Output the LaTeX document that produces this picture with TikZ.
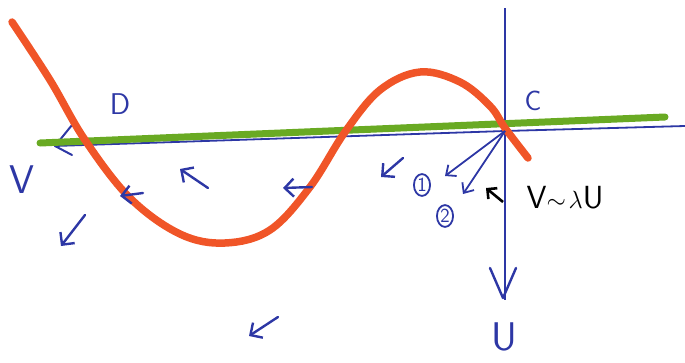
\documentclass[tikz,border=0pt]{standalone}
\usepackage{amsmath,amssymb}
\usepackage{xcolor}
\usepackage{tikz}
\usetikzlibrary{shapes.geometric, arrows.meta, positioning, calc}

\definecolor{penblue}{RGB}{45,55,165}
\definecolor{penred}{RGB}{240,85,40}
\definecolor{pengreen}{RGB}{105,170,35}

\begin{document}
\begin{tikzpicture}[
    x=1pt, y=-1pt,
    axisline/.style={draw=penblue, line width=1.8pt},
    flowarrow/.style={-{Straight Barb[length=9pt, width=18pt]}, draw=penblue, line width=2.4pt, line cap=round},
    eigarrow/.style={-{Straight Barb[length=8pt, width=14pt]}, draw=penblue, line width=1.8pt},
    penlabel/.style={text=penblue, font=\sffamily\fontsize{40}{40}\selectfont},
    circlabel/.style={ellipse, draw=penblue, line width=1.8pt, inner sep=1pt, text=penblue, font=\sffamily\fontsize{20}{20}\selectfont},
]
\useasboundingbox (0,0) rectangle (685,362);

% axes
\coordinate (top) at (505,8);
\coordinate (origin) at (505,131);
\coordinate (bottom) at (505,300);
\coordinate (rightend) at (685,126);
\coordinate (leftend) at (55,146);
\draw[axisline] (top) -- (bottom);
\draw[axisline] (rightend) -- (origin) -- (leftend);
\draw[penblue, line width=2.4pt, line cap=round, line join=round] (490,268) -- (503,298) -- (516,268);
\draw[penblue, line width=2pt, line cap=round, line join=round] (72,125) -- (leftend) -- (72,155);

% green line and red curve
\draw[pengreen, line width=7pt, line cap=round] (40,143) -- (665,117);
\draw[penred, line width=7.5pt, line cap=round] plot[smooth, tension=0.6] coordinates {
    (12,22) (50,80) (85,140) (130,198) (180,234) (225,243) (270,230) (310,187)
    (345,132) (380,90) (420,72) (460,82) (490,106) (505,128) (528,158)};

% labels
\node[penlabel] (vlab) at (22,180) {V};
\node[penlabel] (ulab) at (504,337) {U};
\node[penlabel, font=\sffamily\fontsize{28}{28}\selectfont] (clab) at (533,101) {C};
\node[penlabel, font=\sffamily\fontsize{30}{30}\selectfont] (dlab) at (120,104) {D};
\node[font=\sffamily\fontsize{32}{32}\selectfont] (rel) at (565,198) {V$\sim\!\lambda$U};

% eigen-directions at C
\coordinate (e1) at (445,176);
\coordinate (e2) at (463,194);
\draw[eigarrow] (origin) -- (e1);
\draw[eigarrow] (origin) -- (e2);
\node[circlabel] (one) at (422,185) {1};
\node[circlabel] (two) at (445,216) {2};
\coordinate (rtail) at (503,202);
\coordinate (rhead) at (486,188);
\draw[-{Straight Barb[length=7pt, width=14pt]}, line width=2.6pt] (rtail) -- (rhead);

% direction field
\draw[flowarrow] (403,158) -- (381,177);
\draw[flowarrow] (208,188) -- (180,169);
\draw[flowarrow] (312,187) -- (283,188);
\draw[flowarrow] (143,193) -- (120,196);
\draw[flowarrow] (85,215) -- (61,246);
\draw[flowarrow] (278,317) -- (249,336);
\end{tikzpicture}
\end{document}
